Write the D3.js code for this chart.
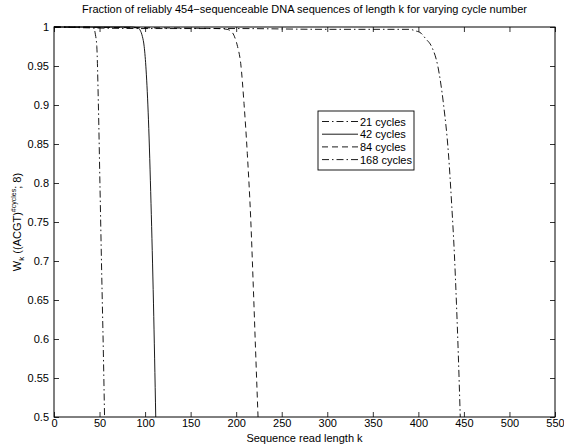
<!DOCTYPE html>
<html>
<head>
<meta charset="utf-8">
<script src="https://cdn.jsdelivr.net/npm/d3@7"></script>
<style>
  html, body { margin: 0; padding: 0; background: #fff; }
  svg { display: block; font-family: "Liberation Sans", Arial, Helvetica, sans-serif; }
</style>
</head>
<body>
<svg id="chart" width="564" height="446"></svg>
<script>
// Read length k (x) and fraction W_k (y) for each cycle count
const k21  = [0, 40, 43.5, 45.5, 47, 48.7, 50.5, 52.3, 54.2, 55.5];
const w21  = [1, 1, 0.999, 0.99, 0.975, 0.902, 0.795, 0.688, 0.582, 0.5];

const k42  = [0, 85, 89, 92, 94.5, 97, 99, 101.1, 103.7, 106.5, 109.2, 111.7];
const w42  = [1, 1, 0.9995, 0.999, 0.996, 0.988, 0.975, 0.945, 0.881, 0.774, 0.646, 0.5];

const k84  = [0, 100, 180, 190, 195.7, 199, 201.5, 205, 208.6, 212.2, 216, 218.8, 221.4, 224];
const w84  = [1, 0.999, 0.998, 0.997, 0.993, 0.985, 0.975, 0.953, 0.902, 0.838, 0.753, 0.667, 0.582, 0.5];

const k168 = [0, 100, 200, 300, 390, 397, 403, 408, 414.5, 421.5, 427.5, 433, 436.7, 439.5, 441.8, 443.8, 446];
const w168 = [1, 0.998, 0.998, 0.997, 0.997, 0.995, 0.992, 0.985, 0.975, 0.949, 0.902, 0.838, 0.770, 0.710, 0.646, 0.582, 0.5];

const seriesNames = ["21 cycles", "42 cycles", "84 cycles", "168 cycles"];
const seriesK = [k21, k42, k84, k168];
const seriesW = [w21, w42, w84, w168];

const xTicks = [0, 50, 100, 150, 200, 250, 300, 350, 400, 450, 500, 550];
const yTicks = [0.5, 0.55, 0.6, 0.65, 0.7, 0.75, 0.8, 0.85, 0.9, 0.95, 1];

const titleText = "Fraction of reliably 454\u2212sequenceable DNA sequences of length k for varying cycle number";
const xLabelText = "Sequence read length k";

// Line dash patterns per series: dash-dot, solid, dashed, dash-dot
const dashes = ["7,3,1.5,3", null, "6,4", "7,3,1.5,3"];

const W = 564, H = 446;
const m = { left: 54, right: 9, top: 27, bottom: 29 };
const pw = W - m.left - m.right, ph = H - m.top - m.bottom;

const svg = d3.select("#chart");
const g = svg.append("g").attr("transform", `translate(${m.left},${m.top})`);

const x = d3.scaleLinear().domain([0, 550]).range([0, pw]);
const y = d3.scaleLinear().domain([0.5, 1]).range([ph, 0]);

const defs = svg.append("defs");
defs.append("clipPath").attr("id", "plotclip")
  .append("rect").attr("x", 0).attr("y", -1).attr("width", pw).attr("height", ph + 1);

// Axes: tick marks pointing inward on all four sides
const tickLen = 5;
const fmtY = d => String(+d.toFixed(2));
const axB = d3.axisBottom(x).tickValues(xTicks).tickSize(-tickLen).tickPadding(2).tickFormat(d => d);
const axT = d3.axisTop(x).tickValues(xTicks).tickSize(-tickLen).tickFormat("");
const axL = d3.axisLeft(y).tickValues(yTicks).tickSize(-tickLen).tickPadding(5).tickFormat(fmtY);
const axR = d3.axisRight(y).tickValues(yTicks).tickSize(-tickLen).tickFormat("");

function style(sel) {
  sel.select(".domain").remove();
  sel.selectAll(".tick line").attr("stroke", "#000").attr("stroke-width", 0.8);
  sel.selectAll("text").attr("fill", "#000").attr("font-size", 11)
    .attr("font-family", '"Liberation Sans", Arial, sans-serif');
}
g.append("g").attr("transform", `translate(0,${ph})`).call(axB).call(style);
g.append("g").call(axT).call(style);
g.append("g").call(axL).call(style);
g.append("g").attr("transform", `translate(${pw},0)`).call(axR).call(style);

// Curves
const line = d3.line().x(d => x(d[0])).y(d => y(d[1])).curve(d3.curveMonotoneX);
const curves = g.append("g").attr("clip-path", "url(#plotclip)");
seriesK.forEach((ks, i) => {
  const pts = ks.map((k, j) => [k, seriesW[i][j]]);
  curves.append("path")
    .attr("d", line(pts))
    .attr("fill", "none")
    .attr("stroke", "#000")
    .attr("stroke-width", 0.9)
    .attr("stroke-dasharray", dashes[i]);
});

// Plot frame
g.append("rect").attr("x", 0).attr("y", 0).attr("width", pw).attr("height", ph)
  .attr("fill", "none").attr("stroke", "#000").attr("stroke-width", 1);

// Legend
const lg = svg.append("g").attr("transform", "translate(318,111)");
lg.append("rect").attr("x", 0).attr("y", 0).attr("width", 96).attr("height", 59)
  .attr("fill", "#fff").attr("stroke", "#000").attr("stroke-width", 0.9);
seriesNames.forEach((name, i) => {
  const cy = 10.5 + i * 12.7;
  lg.append("line").attr("x1", 4).attr("x2", 40).attr("y1", cy).attr("y2", cy)
    .attr("stroke", "#000").attr("stroke-width", 0.9).attr("stroke-dasharray", dashes[i]);
  lg.append("text").attr("x", 42).attr("y", cy + 4).attr("font-size", 11).attr("fill", "#000")
    .text(name);
});

// Title and axis labels
svg.append("text").attr("x", m.left + pw / 2).attr("y", 13).attr("text-anchor", "middle")
  .attr("font-size", 11).attr("fill", "#000").text(titleText);
svg.append("text").attr("x", m.left + pw / 2).attr("y", 442).attr("text-anchor", "middle")
  .attr("font-size", 11).attr("fill", "#000").text(xLabelText);

const yl = svg.append("text")
  .attr("transform", `translate(21,${m.top + ph / 2}) rotate(-90)`)
  .attr("text-anchor", "middle").attr("font-size", 11).attr("fill", "#000");
yl.append("tspan").text("W");
yl.append("tspan").attr("font-size", 8).attr("dy", 3).text("k");
yl.append("tspan").attr("dy", -3).text(" ((ACGT)");
yl.append("tspan").attr("font-size", 7).attr("dy", -5).text("#cycles");
yl.append("tspan").attr("dy", 5).text("; 8)");
</script>
</body>
</html>
